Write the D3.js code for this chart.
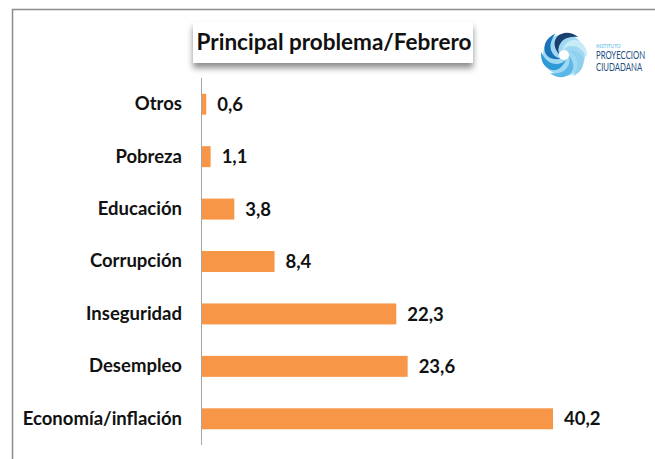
<!DOCTYPE html>
<html>
<head>
<meta charset="utf-8">
<script src="https://cdn.jsdelivr.net/npm/d3@7"></script>
<style>
  body { margin: 0; background: #fff; }
  text { font-family: Lato, sans-serif; font-weight: bold; }
</style>
</head>
<body>
<div id="chart"></div>
<script>
// data
const categories = ["Otros", "Pobreza", "Educación", "Corrupción", "Inseguridad", "Desempleo", "Economía/inflación"];
const values = [0.6, 1.1, 3.8, 8.4, 22.3, 23.6, 40.2];
const chartTitle = "Principal problema/Febrero";
const logoLines = ["INSTITUTO", "PROYECCION", "CIUDADANA"];

const W = 655, H = 459;
const margin = {top: 78, left: 201};

const svg = d3.select("#chart")
    .append("svg")
    .attr("width", W)
    .attr("height", H);

// panel border (runs off the right and bottom edges)
svg.append("rect")
    .attr("x", 12.5)
    .attr("y", 9.5)
    .attr("width", W + 20)
    .attr("height", H + 20)
    .attr("fill", "none")
    .attr("stroke", "#8c8c8c")
    .attr("stroke-width", 1.5);

// title box with drop shadow
const defs = svg.append("defs");
const f = defs.append("filter").attr("id", "shadow")
    .attr("x", "-10%").attr("y", "-30%").attr("width", "120%").attr("height", "190%");
f.append("feDropShadow")
    .attr("dx", 0).attr("dy", 5).attr("stdDeviation", 3)
    .attr("flood-color", "#000").attr("flood-opacity", 0.45);

svg.append("rect")
    .attr("x", 193)
    .attr("y", 22)
    .attr("width", 280)
    .attr("height", 41)
    .attr("fill", "#fff")
    .attr("filter", "url(#shadow)");

svg.append("text")
    .attr("x", 334)
    .attr("y", 50)
    .attr("text-anchor", "middle")
    .style("font-size", "22.5px")
    .style("fill", "#111")
    .text(chartTitle);

const g = svg.append("g")
    .attr("transform", "translate(" + margin.left + "," + margin.top + ")");

const x = d3.scaleLinear()
    .domain([0, 40.2])
    .range([0, 352]);

const y = d3.scaleBand()
    .domain(categories)
    .range([0, 367])
    .paddingInner(0.6)
    .paddingOuter(0.3);

// bars
g.selectAll(".bar")
    .data(categories)
    .enter()
    .append("rect")
    .attr("class", "bar")
    .attr("x", 0)
    .attr("y", d => y(d))
    .attr("width", (d, i) => x(values[i]))
    .attr("height", y.bandwidth())
    .attr("fill", "#F79646");

// value labels
g.selectAll(".val")
    .data(categories)
    .enter()
    .append("text")
    .attr("x", (d, i) => x(values[i]) + 11)
    .attr("y", d => y(d) + y.bandwidth() / 2)
    .attr("dy", "0.36em")
    .style("font-size", "18.5px")
    .style("fill", "#111")
    .text((d, i) => d3.format(".1f")(values[i]).replace(".", ","));

// category axis
const yAxis = g.append("g")
    .call(d3.axisLeft(y).tickSize(0).tickPadding(19));
yAxis.select(".domain")
    .attr("stroke", "#a6a6a6")
    .attr("d", "M0.5,0V367");
yAxis.selectAll(".tick text")
    .style("font-size", "18.5px")
    .style("font-family", "Lato, sans-serif")
    .style("font-weight", "bold")
    .style("fill", "#111");

// logo
const logo = svg.append("g").attr("transform", "translate(564,55)");
logo.append("circle").attr("r", 21).attr("fill", "#9fd8f2");
const petals = ["#c9ebf8", "#8fd0ef", "#5bb8e6", "#2f9bd6", "#1a73b8", "#1b3f6e"];
petals.forEach(function (c, i) {
    logo.append("path")
        .attr("transform", "rotate(" + (i * 60 - 20) + ")")
        .attr("d", "M0,-5 C9,-16 22,-12 22,2 C17,-7 9,-9 0,-5 Z")
        .attr("fill", c);
    logo.append("path")
        .attr("transform", "rotate(" + (i * 60 + 10) + ")")
        .attr("d", "M0,-8 C8,-22 22,-16 23,-1 C15,-12 8,-12 0,-8 Z")
        .attr("fill", c);
});
logo.append("circle").attr("r", 5).attr("fill", "#fff");

// logo text, squeezed horizontally like a condensed face
const logoText = svg.append("g").attr("transform", "translate(596,0) scale(0.74,1)");
logoText.selectAll("text")
    .data(logoLines)
    .enter()
    .append("text")
    .attr("x", 0)
    .attr("y", (d, i) => i === 0 ? 48 : 48 + i * 11.5)
    .style("font-size", (d, i) => i === 0 ? "6.5px" : "10.5px")
    .style("font-weight", "normal")
    .style("fill", (d, i) => i === 0 ? "#4fb3e3" : "#1f4f80")
    .text(d => d);
</script>
</body>
</html>
